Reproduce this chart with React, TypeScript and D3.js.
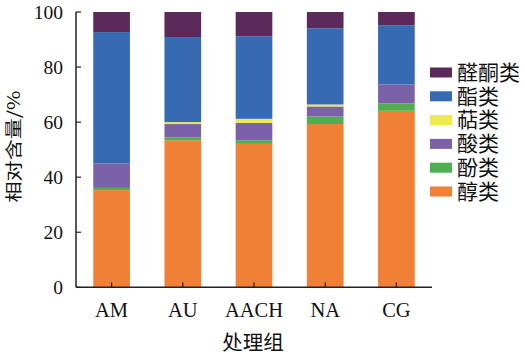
import React from "react";
import * as d3 from "d3";

const categories = ["AM", "AU", "AACH", "NA", "CG"];
const seriesNames = ["醇类", "酚类", "酸类", "萜类", "酯类", "醛酮类"];
const alcohols = [35.3, 53.4, 52.1, 59.3, 64.1];
const phenols = [0.8, 1.1, 1.3, 2.7, 2.7];
const acids = [8.9, 4.8, 6.3, 3.7, 6.9];
const terpenes = [0.0, 0.7, 1.5, 0.7, 0.0];
const esters = [47.7, 30.9, 30.0, 27.7, 21.5];
const aldKetones = [7.3, 9.1, 8.8, 5.9, 4.8];
const yTicks = [0, 20, 40, 60, 80, 100];
const colors = ["#F08035", "#4FAF50", "#7B62A8", "#EEEA4A", "#366BB4", "#5B2A5B"];

const seriesValues = [alcohols, phenols, acids, terpenes, esters, aldKetones];

export default function App() {
  const W = 525, H = 356;
  const x0 = 76, x1 = 432, y0 = 287.3, y1 = 12;
  const x = d3.scaleBand<string>().domain(categories).range([x0, x1]).paddingInner(0.485).paddingOuter(0.2425);
  const y = d3.scaleLinear().domain([0, 100]).range([y0, y1]);
  const rows = categories.map((c, i) => {
    const r: any = { cat: c };
    seriesNames.forEach((s, j) => (r[s] = seriesValues[j][i]));
    return r;
  });
  const stacked = d3.stack<any>().keys(seriesNames)(rows);
  const serif = "'Liberation Serif', 'Times New Roman', serif";
  const cjk = "'Noto Sans CJK SC', sans-serif";
  const legendOrder = [...seriesNames].reverse();
  return (
    <svg width={W} height={H} style={{ position: "absolute", left: 0, top: 0, background: "#fff" }}>
      {stacked.map((layer, j) => (
        <g key={layer.key} fill={colors[j]}>
          {layer.map((d, i) =>
            d[1] - d[0] > 0 ? (
              <rect key={i} x={x(categories[i])} width={x.bandwidth()} y={y(d[1])} height={y(d[0]) - y(d[1])} />
            ) : null
          )}
        </g>
      ))}
      <line x1={x0} x2={x0} y1={y1} y2={y0} stroke="#222" strokeWidth={1.5} />
      <line x1={x0} x2={x1} y1={y0} y2={y0} stroke="#222" strokeWidth={1.5} />
      {yTicks.map((t) => (
        <g key={t}>
          <line x1={x0} x2={x0 + 5} y1={y(t)} y2={y(t)} stroke="#222" strokeWidth={1.2} />
          <text x={63} y={y(t)} dy="0.35em" textAnchor="end" fontFamily={serif} fontSize={19.5} fill="#111">{t}</text>
        </g>
      ))}
      {categories.map((c) => (
        <g key={c}>
          <line x1={x(c)! + x.bandwidth() / 2} x2={x(c)! + x.bandwidth() / 2} y1={y0} y2={y0 - 5} stroke="#222" strokeWidth={1.2} />
          <text x={x(c)! + x.bandwidth() / 2} y={317} textAnchor="middle" fontFamily={serif} fontSize={20.5} fill="#111">{c}</text>
        </g>
      ))}
      <text x={253} y={349.5} textAnchor="middle" fontFamily={cjk} fontSize={20.5} fill="#111">处理组</text>
      <text transform={`translate(20,${146.5}) rotate(-90)`} textAnchor="middle" fontFamily={cjk} fontSize={17} textLength={112} lengthAdjust="spacingAndGlyphs" fill="#111">相对含量/%</text>
      {legendOrder.map((s, k) => {
        const j = seriesNames.indexOf(s);
        const cy = 72.5 + k * 23.8;
        return (
          <g key={s}>
            <rect x={430} y={cy - 5} width={22} height={10} fill={colors[j]} />
            <text x={457} y={cy} dy="0.35em" fontFamily={cjk} fontSize={21} fill="#111">{s}</text>
          </g>
        );
      })}
    </svg>
  );
}
